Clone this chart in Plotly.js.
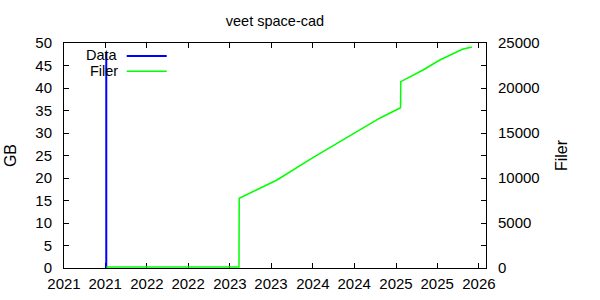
<!DOCTYPE html>
<html>
<head>
<meta charset="utf-8">
<script src="https://cdn.plot.ly/plotly-3.0.1.min.js"></script>
<style>html,body{margin:0;padding:0;background:#fff;}#chart{width:600px;height:300px;}</style>
</head>
<body>
<div id="chart"></div>
<script>
// Data (GB) series
const dataDates = ['2021-07-06', '2021-07-06'];
const dataGB = [0, 47.8];

// Filer (file count) series
const filerDates = ['2021-07-06', '2023-02-10', '2023-02-11', '2023-07-27', '2024-01-05', '2024-07-03', '2024-10-23', '2025-01-21', '2025-01-22', '2025-04-30', '2025-07-13', '2025-10-20', '2025-12-01'];
const filerCount = [100, 100, 7750, 9780, 12330, 15000, 16670, 17810, 20700, 22000, 23110, 24300, 24560];

const xRange = ['2021-01-01', '2026-02-01'];
const gbRange = [0, 50];
const filerRange = [0, 25000];

const FONT = 'Liberation Sans, Arial, sans-serif';

const traces = [
  {x: dataDates, y: dataGB, type: 'scatter', mode: 'lines', name: 'Data',
   line: {color: '#0000ff', width: 2}, yaxis: 'y', showlegend: false},
  {x: filerDates, y: filerCount, type: 'scatter', mode: 'lines', name: 'Filer',
   line: {color: '#00ff00', width: 1.5}, yaxis: 'y2', showlegend: false}
];

const axisCommon = {
  showgrid: false, zeroline: false, showline: true, linecolor: '#000', linewidth: 1,
  ticks: 'inside', ticklen: 5, tickcolor: '#000', tickfont: {family: FONT, size: 15, color: '#000'},
  layer: 'below traces'
};

const layout = {
  width: 600, height: 300,
  margin: {l: 64, r: 114, t: 43, b: 32},
  paper_bgcolor: '#fff', plot_bgcolor: '#fff',
  font: {family: FONT, size: 15, color: '#000'},
  title: {text: 'veet space-cad', font: {family: FONT, size: 14.5, color: '#000'}, x: 0.4583, xanchor: 'center', y: 0.93, yanchor: 'middle'},
  xaxis: Object.assign({}, axisCommon, {type: 'date', range: xRange, tick0: '2021-01-01', dtick: 'M6', tickformat: '%Y', mirror: 'ticks', ticklabelstandoff: 2}),
  yaxis: Object.assign({}, axisCommon, {range: gbRange, dtick: 5, mirror: 'ticks', ticklabelstandoff: 8,
    title: {text: 'GB', font: {family: FONT, size: 16, color: '#000'}, standoff: 14}}),
  yaxis2: Object.assign({}, axisCommon, {range: filerRange, dtick: 5000, tickformat: 'd', overlaying: 'y', side: 'right', ticklabelstandoff: 8,
    title: {text: 'Filer', font: {family: FONT, size: 16, color: '#000'}, standoff: 17}}),
  showlegend: false,
  annotations: [
    {xref: 'paper', yref: 'paper', x: 0.130, y: 0.948, xanchor: 'right', yanchor: 'middle', text: 'Data', showarrow: false, borderpad: 0, font: {family: FONT, size: 14.5, color: '#000'}},
    {xref: 'paper', yref: 'paper', x: 0.130, y: 0.876, xanchor: 'right', yanchor: 'middle', text: 'Filer', showarrow: false, borderpad: 0, font: {family: FONT, size: 14.5, color: '#000'}}
  ],
  shapes: [
    {type: 'line', xref: 'paper', yref: 'paper', x0: 0.1486, x1: 0.2434, y0: 0.942, y1: 0.942, line: {color: '#0000ff', width: 2}},
    {type: 'line', xref: 'paper', yref: 'paper', x0: 0.1486, x1: 0.2434, y0: 0.874, y1: 0.874, line: {color: '#00ff00', width: 1.5}}
  ]
};

Plotly.newPlot('chart', traces, layout, {staticPlot: true, displayModeBar: false});
</script>
</body>
</html>
